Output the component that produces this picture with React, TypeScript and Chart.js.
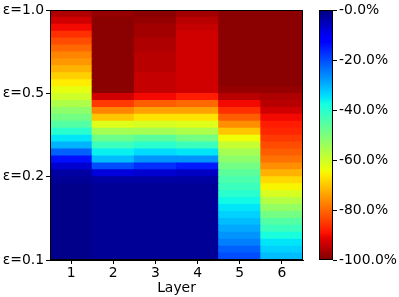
import React, { useEffect, useRef } from 'react';
import { Chart, registerables } from 'chart.js';
Chart.register(...registerables);

const LAYERS = ['1', '2', '3', '4', '5', '6'];
const EPS_TICKS = ['ε=0.1', 'ε=0.2', 'ε=0.5', 'ε=1.0'];
const CBAR_MIN = -100;
const CBAR_MAX = 0;
const CBAR_STEP = 20;

// change in % per row, listed from top (ε=1.0) to bottom (ε=0.1)
const LAYER1 = [-96, -93, -90, -86, -83, -80, -77, -75, -72, -69, -66, -63, -60, -56, -52, -49, -45, -40, -35, -30, -22, -14, -7, -3, -2, -1, -1, -1, -1, -1, -1, -1, -1, -1, -1, -1];
const LAYER2 = [-98, -99, -99, -99, -99, -99, -99, -99, -99, -99, -99, -99, -93, -85, -77, -70, -62, -55, -48, -42, -36, -31, -20, -8, -3, -2, -2, -2, -2, -2, -2, -2, -2, -2, -2, -2];
const LAYER3 = [-99, -98, -97, -97, -96, -96, -95, -95, -95, -94, -94, -94, -90, -81, -74, -67, -61, -55, -46, -40, -34, -27, -17, -7, -3, -2, -2, -2, -2, -2, -2, -2, -2, -2, -2, -2];
const LAYER4 = [-97, -95, -94, -93, -93, -93, -93, -93, -93, -93, -93, -93, -88, -80, -74, -67, -62, -56, -49, -42, -35, -27, -15, -6, -3, -2, -2, -2, -2, -2, -2, -2, -2, -2, -2, -2];
const LAYER5 = [-99, -99, -99, -99, -99, -99, -99, -99, -99, -99, -99, -98, -95, -90, -86, -81, -76, -70, -64, -59, -55, -52, -49, -46, -44, -42, -40, -37, -35, -33, -31, -29, -27, -25, -22, -20];
const LAYER6 = [-99, -99, -99, -99, -99, -99, -99, -99, -99, -99, -99, -98, -96, -95, -93, -90, -88, -87, -85, -83, -81, -79, -76, -72, -68, -65, -61, -57, -53, -49, -45, -42, -38, -35, -33, -31];

const COLUMNS = [LAYER1, LAYER2, LAYER3, LAYER4, LAYER5, LAYER6];

const FONT = { family: 'DejaVu Sans', size: 13.9 };

const R_SEG = [[0, 0], [0.35, 0], [0.66, 1], [0.89, 1], [1, 0.5]];
const G_SEG = [[0, 0], [0.125, 0], [0.375, 1], [0.64, 1], [0.91, 0], [1, 0]];
const B_SEG = [[0, 0.5], [0.11, 1], [0.34, 1], [0.65, 0], [1, 0]];

function seg(s: number, pts: number[][]) {
  for (let i = 1; i < pts.length; i++) {
    if (s <= pts[i][0]) {
      const [x0, y0] = pts[i - 1];
      const [x1, y1] = pts[i];
      return y0 + ((s - x0) / (x1 - x0)) * (y1 - y0);
    }
  }
  return pts[pts.length - 1][1];
}

function jet(s: number) {
  const c = Math.max(0, Math.min(1, s));
  const r = Math.round(seg(c, R_SEG) * 255);
  const g = Math.round(seg(c, G_SEG) * 255);
  const b = Math.round(seg(c, B_SEG) * 255);
  return `rgb(${r},${g},${b})`;
}

// value -100 -> dark red, 0 -> dark blue
function colorFor(v: number) {
  return jet((CBAR_MAX - v) / (CBAR_MAX - CBAR_MIN));
}

const framePlugin = {
  id: 'frame',
  afterDraw(chart: any) {
    const { ctx, chartArea } = chart;
    ctx.save();
    ctx.strokeStyle = '#000';
    ctx.lineWidth = 1;
    ctx.strokeRect(
      Math.round(chartArea.left) + 0.5,
      Math.round(chartArea.top) + 0.5,
      Math.round(chartArea.right - chartArea.left) - 1,
      Math.round(chartArea.bottom - chartArea.top) - 1
    );
    ctx.restore();
  },
};

const gradientPlugin = {
  id: 'cbarGradient',
  beforeDatasetsDraw(chart: any) {
    const { ctx, chartArea } = chart;
    const grad = ctx.createLinearGradient(0, chartArea.bottom, 0, chartArea.top);
    const n = 64;
    for (let i = 0; i <= n; i++) {
      const t = i / n;
      grad.addColorStop(t, jet(1 - t));
    }
    ctx.save();
    ctx.fillStyle = grad;
    ctx.fillRect(chartArea.left, chartArea.top, chartArea.right - chartArea.left, chartArea.bottom - chartArea.top);
    ctx.restore();
  },
};

export default function App() {
  const heatRef = useRef<HTMLCanvasElement>(null);
  const cbarRef = useRef<HTMLCanvasElement>(null);

  useEffect(() => {
    document.body.style.margin = '0';
    const N = LAYER1.length;
    const datasets = [];
    for (let k = 0; k < N; k++) {
      const r = N - 1 - k;
      datasets.push({
        data: LAYERS.map(() => 1),
        backgroundColor: COLUMNS.map((col) => colorFor(col[r])),
        borderWidth: 0,
        inflateAmount: 0.5,
        barPercentage: 1,
        categoryPercentage: 1,
        stack: 'heat',
      });
    }
    const heat = new Chart(heatRef.current!, {
      type: 'bar',
      data: { labels: LAYERS, datasets: datasets as any },
      options: {
        animation: false,
        responsive: false,
        devicePixelRatio: 1,
        layout: { padding: { top: 7, right: 96, left: 0, bottom: 0 } },
        plugins: { legend: { display: false }, tooltip: { enabled: false } },
        scales: {
          x: {
            stacked: true,
            grid: { drawOnChartArea: false, offset: false, tickLength: 4, color: '#000' },
            border: { display: true, color: '#000' },
            ticks: { font: FONT, color: '#000', padding: 1 },
            title: { display: true, text: 'Layer', font: FONT, color: '#000', padding: { top: 2, bottom: 0 } },
            afterFit: (scale: any) => {
              scale.height = 37;
            },
          },
          y: {
            stacked: true,
            min: 0,
            max: N,
            grid: { drawOnChartArea: false, tickLength: 4, color: '#000' },
            border: { display: true, color: '#000' },
            ticks: {
              stepSize: N / 3,
              autoSkip: false,
              font: FONT,
              color: '#000',
              padding: 2,
              callback: (v: any) => EPS_TICKS[Math.round(Number(v) / (N / 3))] ?? '',
            },
            afterFit: (scale: any) => {
              scale.width = 50;
            },
          },
        },
      } as any,
      plugins: [framePlugin],
    });

    const cbar = new Chart(cbarRef.current!, {
      type: 'scatter',
      data: { datasets: [{ data: [] }] },
      options: {
        animation: false,
        responsive: false,
        devicePixelRatio: 1,
        layout: { padding: { top: 7, right: 0, left: 319, bottom: 37 } },
        plugins: { legend: { display: false }, tooltip: { enabled: false } },
        scales: {
          x: { display: false, min: 0, max: 1 },
          y: {
            position: 'right',
            min: CBAR_MIN,
            max: CBAR_MAX,
            grid: { drawOnChartArea: false, tickLength: 4, color: '#000' },
            border: { display: false },
            ticks: {
              stepSize: CBAR_STEP,
              font: FONT,
              color: '#000',
              padding: 2,
              callback: (v: any) => (Number(v) === 0 ? '-0.0' : Number(v).toFixed(1)) + '%',
            },
            afterFit: (scale: any) => {
              scale.width = 66;
            },
          },
        },
      } as any,
      plugins: [gradientPlugin, framePlugin],
    });

    return () => {
      heat.destroy();
      cbar.destroy();
    };
  }, []);

  return (
    <div style={{ position: 'fixed', left: 0, top: 0, width: 399, height: 297, background: '#fff' }}>
      <canvas ref={heatRef} width={399} height={297} style={{ position: 'absolute', left: 0, top: 0 }} />
      <canvas ref={cbarRef} width={399} height={297} style={{ position: 'absolute', left: 0, top: 0 }} />
    </div>
  );
}
